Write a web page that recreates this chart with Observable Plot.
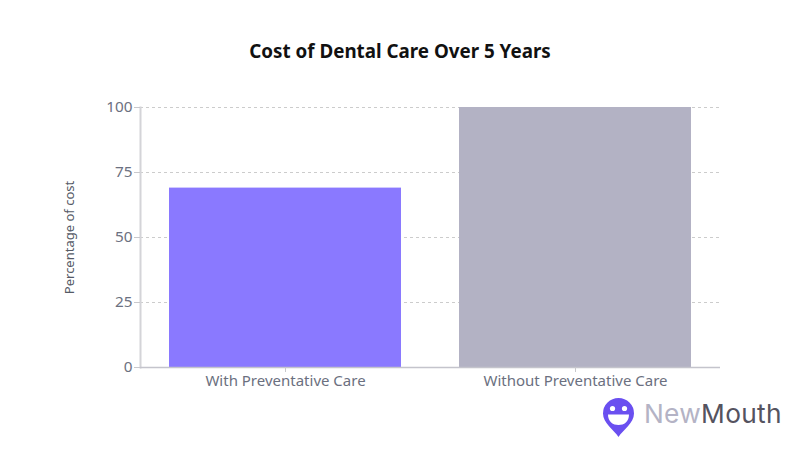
<!DOCTYPE html>
<html>
<head>
<meta charset="utf-8">
<script src="https://cdn.jsdelivr.net/npm/d3@7"></script>
<script src="https://cdn.jsdelivr.net/npm/@observablehq/plot@0.6"></script>
<style>
html,body{margin:0;padding:0;background:#fff;width:800px;height:470px;overflow:hidden;font-family:"Noto Sans",sans-serif}
#wrap{position:relative;width:800px;height:470px}
#title{position:absolute;left:0;top:38px;width:800px;text-align:center;font-size:18.8px;font-weight:700;color:#111;line-height:26px}
#logo{position:absolute;left:600px;top:395px}
#wrap svg.chart{position:absolute;left:0;top:0}
</style>
</head>
<body>
<div id="wrap">
<div id="chart"></div>
<div id="title">Cost of Dental Care Over 5 Years</div>
<svg id="logo" width="190" height="45" viewBox="0 0 190 45">
  <path d="M18.5 42 C14 35 3 28 3 18.5 A15.5 15.5 0 0 1 34 18.5 C34 28 23 35 18.5 42 Z" fill="#6a4ff0"/>
  <circle cx="12.5" cy="13.5" r="2.6" fill="#fff"/>
  <circle cx="24.5" cy="13.5" r="2.6" fill="#fff"/>
  <path d="M8 19.5 H29 C29 27 24 30 18.5 30 C13 30 8 27 8 19.5 Z" fill="#fff"/>
  <text x="44" y="28" font-family="Inter, sans-serif" font-size="26.3" letter-spacing="0.3"><tspan fill="#b4b3c5">New</tspan><tspan fill="#55535f">Mouth</tspan></text>
</svg>
</div>
<script>
const categories = ["With Preventative Care", "Without Preventative Care"];
const costs = [69, 100];
const barColors = ["#8a79ff", "#b3b2c4"];
const yTicks = [0, 25, 50, 75, 100];
const yLabel = "Percentage of cost";

const rows = categories.map((c, i) => ({category: c, cost: costs[i], color: barColors[i]}));

const plot = Plot.plot({
  width: 800,
  height: 470,
  marginLeft: 140,
  marginRight: 80,
  marginTop: 107,
  marginBottom: 103,
  style: {fontFamily: '"Noto Sans", sans-serif', background: "transparent"},
  x: {domain: categories, paddingInner: 0.2, paddingOuter: 0.1, label: null},
  y: {domain: [0, 100], label: null},
  marks: [
    Plot.ruleY(yTicks.filter(d => d > 0), {stroke: "#cccccc", strokeDasharray: "3 3", strokeWidth: 1}),
    Plot.barY(rows, {x: "category", y: "cost", fill: "color"}),
    Plot.frame({anchor: "left", stroke: "#d4d4d8", strokeWidth: 2}),
    Plot.ruleY([0], {stroke: "#c4c4cc", strokeWidth: 1.5}),
    Plot.axisY({ticks: yTicks, tickSize: 6, tickPadding: 2, stroke: "#c8c8cc", fill: "#6b7080", fontSize: 15.3, label: null}),
    Plot.axisX({tickSize: 5, tickPadding: 3, stroke: "#c8c8cc", fill: "#6b7080", fontSize: 15, label: null}),
    Plot.text([yLabel], {frameAnchor: "left", textAnchor: "middle", dx: -71, rotate: -90, fill: "#555a66", fontSize: 13})
  ]
});
plot.classList.add("chart");
document.getElementById("chart").appendChild(plot);
</script>
</body>
</html>
